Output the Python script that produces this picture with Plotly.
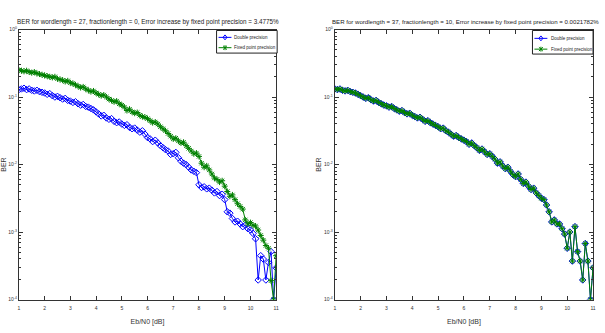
import plotly.graph_objects as go

ebn0 = [round(1 + 0.1 * i, 1) for i in range(101)]

# log10(BER) values
left_double_log = [
    -0.89, -0.88, -0.87, -0.89, -0.88, -0.90, -0.91, -0.90, -0.92, -0.93,
    -0.94, -0.96, -0.95, -0.98, -1.00, -0.99, -1.01, -1.03, -1.02, -1.05,
    -1.06, -1.08, -1.07, -1.10, -1.12, -1.11, -1.14, -1.15, -1.17, -1.19,
    -1.22, -1.25, -1.28, -1.27, -1.31, -1.33, -1.32, -1.36, -1.38, -1.37,
    -1.40, -1.42, -1.41, -1.45, -1.47, -1.46, -1.49, -1.52, -1.50, -1.55,
    -1.60, -1.62, -1.66, -1.64, -1.68, -1.72, -1.75, -1.78, -1.80, -1.85,
    -1.84, -1.82, -1.90, -1.95, -1.98, -2.00, -2.04, -2.08, -2.10, -2.12,
    -2.30, -2.34, -2.33, -2.36, -2.35, -2.38, -2.42, -2.40, -2.46, -2.44,
    -2.52, -2.70, -2.72, -2.80, -2.85, -2.84, -2.88, -2.92, -2.90, -2.95,
    -2.97, -3.02, -3.10, -3.71, -3.35, -3.40, -3.71, -3.45, -3.29, -4.00,
    -3.53,
]
left_fixed_log = [
    -0.60, -0.61, -0.62, -0.61, -0.63, -0.64, -0.63, -0.65, -0.66, -0.67,
    -0.68, -0.69, -0.70, -0.71, -0.70, -0.73, -0.74, -0.75, -0.77, -0.76,
    -0.79, -0.80, -0.82, -0.84, -0.86, -0.85, -0.88, -0.90, -0.92, -0.91,
    -0.94, -0.96, -0.98, -0.97, -1.00, -1.03, -1.05, -1.07, -1.06, -1.10,
    -1.12, -1.15, -1.20, -1.18, -1.22, -1.24, -1.23, -1.27, -1.29, -1.30,
    -1.32, -1.35, -1.38, -1.37, -1.40, -1.44, -1.47, -1.50, -1.54, -1.58,
    -1.62, -1.61, -1.65, -1.68, -1.67, -1.72, -1.76, -1.80, -1.84, -1.83,
    -1.88, -1.98, -2.04, -2.02, -2.08, -2.14, -2.20, -2.22, -2.26, -2.24,
    -2.32, -2.40, -2.47, -2.45, -2.52, -2.58, -2.62, -2.66, -2.82, -2.88,
    -2.86, -2.90, -2.91, -2.97, -3.05, -3.12, -3.20, -3.24, -3.72, -4.00,
    -3.35,
]
right_double_log = [
    -0.88, -0.89, -0.88, -0.90, -0.91, -0.90, -0.92, -0.93, -0.94, -0.96,
    -0.98, -1.00, -1.02, -1.01, -1.04, -1.06, -1.05, -1.08, -1.10, -1.12,
    -1.13, -1.15, -1.14, -1.17, -1.19, -1.21, -1.20, -1.23, -1.25, -1.24,
    -1.27, -1.29, -1.31, -1.30, -1.33, -1.36, -1.35, -1.38, -1.40, -1.42,
    -1.44, -1.47, -1.46, -1.50, -1.52, -1.55, -1.58, -1.57, -1.60, -1.62,
    -1.64, -1.66, -1.70, -1.68, -1.72, -1.75, -1.79, -1.77, -1.81, -1.85,
    -1.84, -1.88, -1.92, -1.98, -1.96, -2.02, -2.06, -2.04, -2.10, -2.15,
    -2.18, -2.14, -2.22, -2.28, -2.26, -2.32, -2.37, -2.35, -2.42, -2.46,
    -2.50, -2.52, -2.60, -2.70, -2.85, -2.82, -2.88, -2.88, -2.95, -3.03,
    -3.24, -3.00, -3.43, -2.92, -3.29, -3.43, -3.71, -3.17, -3.43, -4.00,
    -3.53,
]
right_fixed_log = [
    -0.88, -0.89, -0.88, -0.90, -0.91, -0.90, -0.92, -0.93, -0.94, -0.96,
    -0.98, -1.00, -1.02, -1.01, -1.04, -1.06, -1.05, -1.08, -1.10, -1.12,
    -1.13, -1.15, -1.14, -1.17, -1.19, -1.21, -1.20, -1.23, -1.25, -1.24,
    -1.27, -1.29, -1.31, -1.30, -1.33, -1.36, -1.35, -1.38, -1.40, -1.42,
    -1.44, -1.47, -1.46, -1.50, -1.52, -1.55, -1.58, -1.57, -1.60, -1.62,
    -1.64, -1.66, -1.70, -1.68, -1.72, -1.75, -1.79, -1.77, -1.81, -1.85,
    -1.84, -1.88, -1.92, -1.98, -1.96, -2.02, -2.06, -2.04, -2.10, -2.15,
    -2.18, -2.14, -2.22, -2.28, -2.26, -2.32, -2.37, -2.35, -2.42, -2.46,
    -2.50, -2.52, -2.60, -2.70, -2.85, -2.82, -2.88, -2.88, -2.95, -3.03,
    -3.24, -3.00, -3.43, -2.92, -3.29, -3.43, -3.71, -3.17, -3.43, -4.00,
    -3.53,
]

titles = [
    "BER for wordlength = 27, fractionlength = 0, Error increase by fixed point precision = 3.4775%",
    "BER for wordlength = 37, fractionlength = 10, Error increase by fixed point precision = 0.0021782%",
]
series_names = ["Double precision", "Fixed point precision"]
x_ticks = list(range(1, 12))
y_tickvals = [1, 0.1, 0.01, 0.001, 0.0001]
y_ticktext = ["10<sup>0</sup>", "10<sup>-1</sup>", "10<sup>-2</sup>", "10<sup>-3</sup>", "10<sup>-4</sup>"]

BLUE = "#0000ff"
GREEN = "#008000"
AX = "#333333"
FONT = "Liberation Sans, Arial, sans-serif"
W, H = 605, 333


def to_ber(vals):
    return [10 ** v for v in vals]


def px(x):
    return x / W


def py(y):
    return 1 - y / H


fig = go.Figure()

panels = [
    (left_double_log, left_fixed_log, "x", "y"),
    (right_double_log, right_fixed_log, "x2", "y2"),
]
for dbl, fxd, xa, ya in panels:
    fig.add_trace(go.Scatter(
        x=ebn0, y=to_ber(dbl), name=series_names[0], xaxis=xa, yaxis=ya, showlegend=False,
        mode="lines+markers", line=dict(color=BLUE, width=1),
        marker=dict(symbol="diamond-open", size=5, color=BLUE, line=dict(width=1, color=BLUE)),
    ))
    fig.add_trace(go.Scatter(
        x=ebn0, y=to_ber(fxd), name=series_names[1], xaxis=xa, yaxis=ya, showlegend=False,
        mode="lines+markers", line=dict(color=GREEN, width=1),
        marker=dict(symbol="asterisk-open", size=5, color=GREEN, line=dict(width=1, color=GREEN)),
    ))

x_domains = [[px(18), px(277)], [px(336), px(596)]]
y_domain = [py(302), py(27)]

axis_common = dict(
    showline=True, linecolor=AX, linewidth=1, mirror="ticks",
    ticks="inside", ticklen=4, tickcolor=AX, showgrid=False, zeroline=False,
    tickfont=dict(size=5, color=AX, family=FONT),
)

for i, (xk, yk) in enumerate([("xaxis", "yaxis"), ("xaxis2", "yaxis2")]):
    xa_name = "x" if i == 0 else "x2"
    ya_name = "y" if i == 0 else "y2"
    fig.update_layout({
        xk: dict(
            domain=x_domains[i], anchor=ya_name, range=[1, 11],
            tickvals=x_ticks, ticktext=[str(t) for t in x_ticks], ticklabelstandoff=3,
            title=dict(text="Eb/N0 [dB]", font=dict(size=7, color=AX, family=FONT), standoff=9),
            **axis_common,
        ),
        yk: dict(
            domain=y_domain, anchor=xa_name, type="log", range=[-4, 0],
            tickvals=y_tickvals, ticktext=y_ticktext,
            minor=dict(ticks="inside", ticklen=2, dtick="D1", tickcolor=AX, showgrid=False),
            title=dict(text="BER", font=dict(size=7, color=AX, family=FONT), standoff=1),
            **axis_common,
        ),
    })

title_sizes = [6.3, 6.1]
title_centers = [148, 468]
for i, t in enumerate(titles):
    fig.add_annotation(
        text=t, xref="paper", yref="paper", x=px(title_centers[i]), y=py(19),
        xanchor="center", yanchor="middle", showarrow=False,
        font=dict(size=title_sizes[i], color="#222222", family=FONT),
    )

# hand-drawn MATLAB-style legend boxes
legend_boxes = [
    dict(x0=217, x1=278, y0=28, y1=51, rows=[35, 45.5], lx0=219, lx1=232, tx=233),
    dict(x0=535, x1=596, y0=28, y1=52, rows=[36, 47], lx0=537, lx1=550, tx=552),
]
shapes = []
for lb in legend_boxes:
    shapes.append(dict(type="rect", xref="paper", yref="paper",
                       x0=px(lb["x0"]), x1=px(lb["x1"]), y0=py(lb["y1"]), y1=py(lb["y0"]),
                       line=dict(color="#222222", width=1), fillcolor="white", layer="above"))
    mx = (lb["lx0"] + lb["lx1"]) / 2
    for j, (ry, col) in enumerate(zip(lb["rows"], [BLUE, GREEN])):
        shapes.append(dict(type="line", xref="paper", yref="paper",
                           x0=px(lb["lx0"]), x1=px(lb["lx1"]), y0=py(ry), y1=py(ry),
                           line=dict(color=col, width=1), layer="above"))
        if j == 0:
            path = "M {} {} L {} {} L {} {} L {} {} Z".format(
                px(mx), py(ry - 2.5), px(mx + 2), py(ry), px(mx), py(ry + 2.5), px(mx - 2), py(ry))
            shapes.append(dict(type="path", xref="paper", yref="paper", path=path,
                               line=dict(color=col, width=1), layer="above"))
        else:
            for dx, dy in [(0, 2.5), (2, 2), (2, -2)]:
                shapes.append(dict(type="line", xref="paper", yref="paper",
                                   x0=px(mx - dx), x1=px(mx + dx), y0=py(ry - dy), y1=py(ry + dy),
                                   line=dict(color=col, width=1), layer="above"))
        fig.add_annotation(
            text=series_names[j], xref="paper", yref="paper", x=px(lb["tx"]), y=py(ry),
            xanchor="left", yanchor="middle", showarrow=False,
            font=dict(size=4.5, color="#222222", family=FONT),
        )

fig.update_layout(
    shapes=shapes,
    width=W, height=H, margin=dict(l=0, r=0, t=0, b=0),
    paper_bgcolor="white", plot_bgcolor="white", showlegend=False,
)

fig.write_html("out.html")
